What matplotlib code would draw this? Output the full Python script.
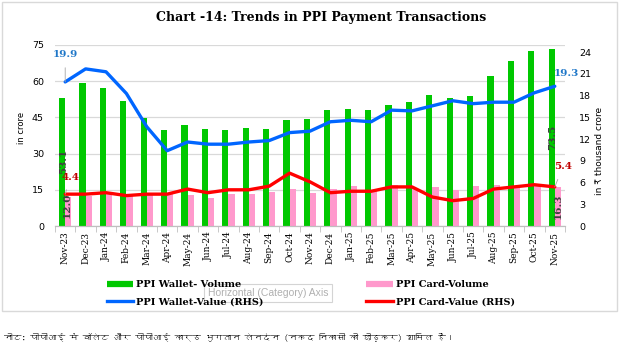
import numpy as np
import matplotlib
matplotlib.use("Agg")
import matplotlib.pyplot as plt
from matplotlib.lines import Line2D
from matplotlib.patches import Rectangle
from matplotlib import font_manager
from matplotlib.ft2font import FT2Font

months = ["Nov-23", "Dec-23", "Jan-24", "Feb-24", "Mar-24", "Apr-24", "May-24",
          "Jun-24", "Jul-24", "Aug-24", "Sep-24", "Oct-24", "Nov-24", "Dec-24",
          "Jan-25", "Feb-25", "Mar-25", "Apr-25", "May-25", "Jun-25", "Jul-25",
          "Aug-25", "Sep-25", "Oct-25", "Nov-25"]
# in crore (left axis)
wallet_volume = [53.1, 59.3, 57.2, 51.8, 44.6, 39.8, 41.9, 40.2, 39.8, 40.6, 40.2,
                 43.9, 44.3, 48.1, 48.5, 48.1, 50.2, 51.4, 54.3, 53.0, 53.9, 62.2,
                 68.4, 72.5, 73.5]
card_volume = [12.0, 12.6, 13.1, 12.6, 13.1, 13.1, 12.7, 11.5, 13.2, 13.2, 14.1,
               15.3, 13.7, 15.3, 16.6, 15.0, 17.0, 15.8, 16.3, 14.9, 16.7, 17.0,
               16.5, 16.6, 16.3]
# in Rs thousand crore (right axis)
wallet_value = [19.9, 21.7, 21.3, 18.3, 13.7, 10.4, 11.6, 11.3, 11.3, 11.6, 11.8,
                12.9, 13.1, 14.4, 14.6, 14.4, 16.0, 15.9, 16.6, 17.3, 16.9, 17.1,
                17.1, 18.4, 19.3]
card_value = [4.4, 4.4, 4.6, 4.2, 4.4, 4.4, 5.1, 4.6, 5.0, 5.0, 5.5, 7.3, 6.1,
              4.6, 4.8, 4.8, 5.4, 5.4, 4.0, 3.5, 3.8, 5.1, 5.4, 5.7, 5.4]

GREEN = "#00c800"
PINK = "#ff99cc"
BLUE = "#0066ff"
RED = "#ff0000"
W, H = 630, 349


def find_font(codepoint, fallback):
    for f in font_manager.fontManager.ttflist:
        try:
            if codepoint in FT2Font(f.fname).get_charmap():
                return f.name
        except Exception:
            pass
    return fallback


deva_font = find_font(0x0928, "DejaVu Sans")

fig = plt.figure(figsize=(W / 100, H / 100), dpi=100)
ax = fig.add_axes([55 / W, 1 - 226 / H, 510 / W, 181 / H])
ax2 = ax.twinx()

x = np.arange(len(months))
bw = 0.3
ax.bar(x - bw / 2, wallet_volume, bw, color=GREEN, zorder=2)
ax.bar(x + bw / 2, card_volume, bw, color=PINK, zorder=2)
ax2.plot(x, wallet_value, color=BLUE, lw=2.4, solid_capstyle="round")
ax2.plot(x, card_value, color=RED, lw=2.4, solid_capstyle="round")

ax.set_xlim(-0.5, len(months) - 0.5)
ax.set_ylim(0, 75)
ax.set_yticks(np.arange(0, 76, 15))
ax2.set_ylim(0, 25)
ax2.set_yticks(np.arange(0, 25, 3))
ax.grid(axis="y", color="#d9d9d9", lw=0.9, zorder=0)
ax.set_axisbelow(True)

ax.set_xticks(x)
ax.set_xticklabels(months, rotation=90, family="DejaVu Serif", fontsize=6.5)
ax.set_xticks(np.arange(-0.5, len(months), 1), minor=True)
ax.tick_params(axis="x", which="major", length=0, pad=4)
ax.tick_params(axis="x", which="minor", length=4, color="#bfbfbf")
ax.tick_params(axis="y", length=0, labelsize=6.8, pad=8)
ax2.tick_params(axis="y", length=0, labelsize=6.8, pad=10)
for a in (ax, ax2):
    for s in ("top", "left", "right"):
        a.spines[s].set_visible(False)
    a.spines["bottom"].set_color("#bfbfbf")

fig.text(22 / W, 1 - 128 / H, "in crore", rotation=90, ha="center", va="center",
         fontsize=6)
fig.text(600 / W, 1 - 151 / H, "in ₹ thousand crore", rotation=90, ha="center",
         va="center", fontsize=6.5, family=["DejaVu Sans", "Noto Sans"])

# data labels
lab = dict(family="DejaVu Serif", fontweight="bold", fontsize=7.5,
           textcoords="offset points", ha="center", va="center")
pt = 0.72
ax.annotate(f"{wallet_volume[0]:.1f}", (x[0] - bw / 2, wallet_volume[0]),
            xytext=(1 * pt, -64 * pt), rotation=90, color="#404040", **lab)
ax.annotate(f"{card_volume[0]:.1f}", (x[0] + bw / 2, card_volume[0]),
            xytext=(-1.5 * pt, -8 * pt), rotation=90, color="#404040", **lab)
ax.annotate(f"{wallet_volume[-1]:.1f}", (x[-1] - bw / 2, wallet_volume[-1]),
            xytext=(1 * pt, -89 * pt), rotation=90, color="#404040", **lab)
ax.annotate(f"{card_volume[-1]:.1f}", (x[-1] + bw / 2, card_volume[-1]),
            xytext=(0.6 * pt, -20 * pt), rotation=90, color="#404040", **lab)
arrow = dict(arrowstyle="-", color="#a6a6a6", lw=0.6, shrinkA=4, shrinkB=0)
ax2.annotate(f"{wallet_value[0]:.1f}", (x[0], wallet_value[0]),
             xytext=(0, 27 * pt), color="#1f77c8", arrowprops=arrow, **lab)
ax2.annotate(f"{card_value[0]:.1f}", (x[0], card_value[0]),
             xytext=(5 * pt, 17 * pt), color="#c00000", arrowprops=arrow, **lab)
ax2.annotate(f"{wallet_value[-1]:.1f}", (x[-1], wallet_value[-1]),
             xytext=(12 * pt, 13 * pt), color="#1f77c8", **lab)
ax2.annotate(f"{card_value[-1]:.1f}", (x[-1], card_value[-1]),
             xytext=(8 * pt, 20 * pt), color="#c00000", arrowprops=arrow, **lab)

fig.suptitle("Chart -14: Trends in PPI Payment Transactions", x=321 / W,
             y=1 - 17 / H, va="center", family="DejaVu Serif", fontweight="bold",
             fontsize=9)

# excel hover tooltip captured in the screenshot
fig.text(268 / W, 1 - 293 / H, "Horizontal (Category) Axis", ha="center",
         va="center", fontsize=7.5, family="Liberation Sans", color="#b0b0b0",
         bbox=dict(boxstyle="square,pad=0.35", fc="white", ec="#d4d4d4", lw=0.8))

handles = [Line2D([], [], color=GREEN, lw=4.5, solid_capstyle="butt"),
           Line2D([], [], color=BLUE, lw=2.4),
           Line2D([], [], color=PINK, lw=4.5, solid_capstyle="butt"),
           Line2D([], [], color=RED, lw=2.4)]
labels = ["PPI Wallet- Volume", "PPI Wallet-Value (RHS)", "PPI Card-Volume",
          "PPI Card-Value (RHS)"]
fig.legend(handles, labels, ncol=2, loc="center left", frameon=False,
           bbox_to_anchor=(98 / W, 1 - 293.5 / H), handlelength=2.7,
           handletextpad=0.3, columnspacing=10.6, labelspacing=0.85,
           prop=dict(family="DejaVu Serif", weight="bold", size=7))

fig.text(4 / W, 1 - 337 / H,
         "नोट: पीपीआई में वॉलेट और पीपीआई कार्ड भुगतान लेनदेन (नकद निकासी को छोड़कर) शामिल हैं।",
         ha="left", va="center", fontsize=6.3, style="italic",
         family=[deva_font, "DejaVu Sans"])

fig.patches.append(Rectangle((2 / W, 1 - 311 / H), 615 / W, 309 / H,
                             transform=fig.transFigure, fill=False,
                             ec="#d9d9d9", lw=1))

fig.savefig("out.png", dpi=100)
